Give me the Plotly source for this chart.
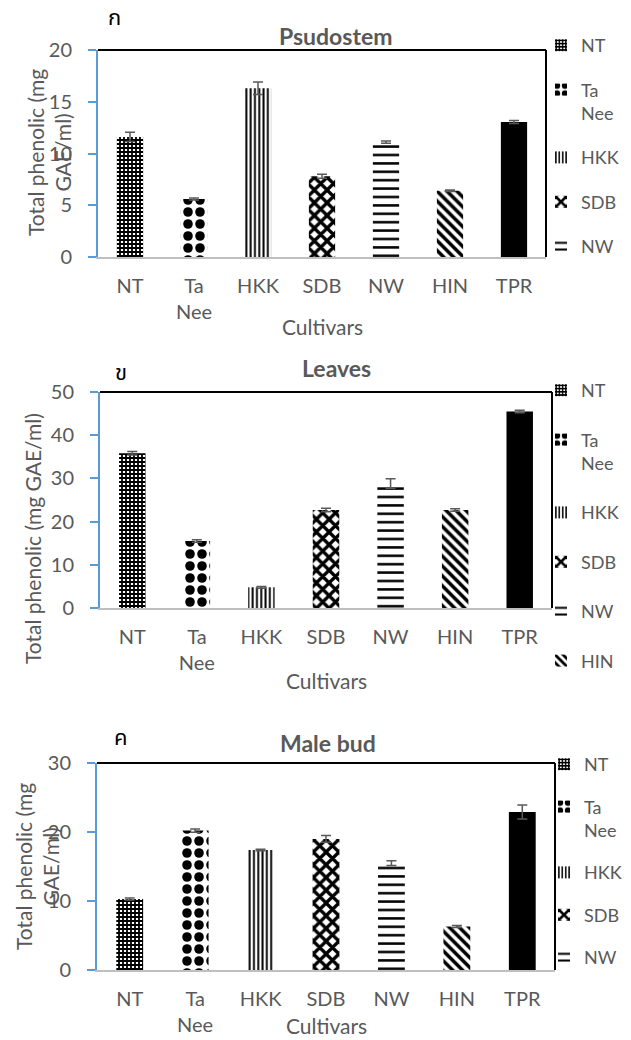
import plotly.graph_objects as go

W, H = 631, 1040

cultivars = ["NT", "Ta Nee", "HKK", "SDB", "NW", "HIN", "TPR"]
tick_labels = ["NT", "Ta<br>Nee", "HKK", "SDB", "NW", "HIN", "TPR"]
legend_labels = ["NT", "Ta<br>Nee", "HKK", "SDB", "NW", "HIN", "TPR"]

psudostem = [11.6, 5.6, 16.3, 7.8, 11.1, 6.4, 13.05]
psudostem_err = [0.45, 0.1, 0.6, 0.2, 0.1, 0.08, 0.15]
leaves = [35.8, 15.5, 4.8, 22.7, 28.8, 22.7, 45.5]
leaves_err = [0.4, 0.3, 0.2, 0.4, 1.1, 0.3, 0.3]
male_bud = [10.3, 20.2, 17.4, 19.0, 15.5, 6.3, 22.9]
male_bud_err = [0.15, 0.25, 0.1, 0.5, 0.35, 0.15, 1.0]

panel_titles = ["Psudostem", "Leaves", "Male bud"]
panel_letters = ["ก", "ข", "ค"]
y_ranges = [[0, 20], [0, 50], [0, 30]]
y_dticks = [5, 10, 10]

# per-cultivar fill patterns (shape, size, solidity); None -> solid black
patterns = [
    ("+", 4, 0.7),
    (".", 12, 0.5),
    ("|", 4.3, 0.45),
    ("x", 9, 0.6),
    ("-", 8.4, 0.3),
    ("\\", 7, 0.5),
    None,
]

FONT = "Lato, Carlito, 'Open Sans', sans-serif"
GRAY = "#595959"
BLUE = "#5B9BD5"

def px(xp):
    return xp / W

def py(yp):
    return 1 - yp / H

# plot-area boxes in pixels: (left, right, top, bottom)
boxes = [(98, 546, 50, 257), (100, 552, 392, 608), (97, 555, 763, 970)]
legend_pos = [(541, 27), (541, 372), (544, 746)]
legend_gaps = [18, 23, 16]
legend_counts = [5, 6, 5]
title_pos = [(335, 36), (336, 368), (328, 743)]
letter_pos = [(114, 18), (121, 373), (121, 738)]
ytitle = [("Total phenolic (mg<br>GAE/ml)", 49, 153),
          ("Total phenolic (mg GAE/ml)", 32, 539),
          ("Total phenolic (mg<br>GAE/ml)", 37, 867)]
xtitle_pos = [(322, 326), (326, 680), (326, 1025)]

series = [(psudostem, psudostem_err), (leaves, leaves_err), (male_bud, male_bud_err)]

fig = go.Figure()
annotations = []
shapes = []
layout = {}

for p in range(3):
    xa = "x" if p == 0 else f"x{p+1}"
    ya = "y" if p == 0 else f"y{p+1}"
    lg = "legend" if p == 0 else f"legend{p+1}"
    vals, errs = series[p]
    for i, c in enumerate(cultivars):
        pat = patterns[i]
        if pat is None:
            marker = dict(color="black", line=dict(width=0))
        else:
            marker = dict(color="white", line=dict(width=0),
                          pattern=dict(shape=pat[0], size=pat[1], solidity=pat[2],
                                       fgcolor="black", bgcolor="white", fillmode="replace"))
        fig.add_trace(go.Bar(
            x=[c], y=[vals[i]], width=0.41, name=legend_labels[i],
            marker=marker,
            error_y=dict(type="data", array=[errs[i]], visible=True,
                         color=GRAY, thickness=1.5, width=5),
            xaxis=xa, yaxis=ya, legend=lg, legendgroup=f"{p}-{i}",
            showlegend=i < legend_counts[p],
        ))
    l, r, t, b = boxes[p]
    xkey = "xaxis" if p == 0 else f"xaxis{p+1}"
    ykey = "yaxis" if p == 0 else f"yaxis{p+1}"
    layout[xkey] = dict(
        domain=[px(l), px(r)], anchor=ya, type="category", automargin=False,
        categoryorder="array", categoryarray=cultivars,
        tickmode="array", tickvals=cultivars, ticktext=tick_labels,
        range=[-0.5, 6.5], showgrid=False, showline=True,
        linecolor="#BFBFBF", linewidth=2, ticks="", ticklabelstandoff=10,
        tickfont=dict(family=FONT, size=20, color=GRAY), fixedrange=True,
    )
    layout[ykey] = dict(
        domain=[py(b), py(t)], anchor=xa, range=y_ranges[p], dtick=y_dticks[p],
        showgrid=False, showline=True, linecolor=BLUE, linewidth=2, automargin=False,
        ticks="outside", ticklen=8, tickwidth=2, tickcolor=BLUE,
        ticklabelstandoff=12, zeroline=False,
        tickfont=dict(family=FONT, size=20, color=GRAY), fixedrange=True,
    )
    lx, ly = legend_pos[p]
    layout[lg] = dict(
        x=px(lx), y=py(ly), xanchor="left", yanchor="top",
        bgcolor="rgba(0,0,0,0)", tracegroupgap=legend_gaps[p], valign="top",
        font=dict(family=FONT, size=18, color=GRAY), itemwidth=30,
    )
    # black top and right borders of plot area
    shapes.append(dict(type="line", xref=f"{xa} domain", yref=f"{ya} domain",
                       x0=0, x1=1, y0=1, y1=1, line=dict(color="black", width=2)))
    shapes.append(dict(type="line", xref=f"{xa} domain", yref=f"{ya} domain",
                       x0=1, x1=1, y0=0, y1=1, line=dict(color="black", width=2)))
    tx, ty = title_pos[p]
    annotations.append(dict(text=f"<b>{panel_titles[p]}</b>", x=px(tx), y=py(ty),
                            xref="paper", yref="paper", showarrow=False,
                            xanchor="center", yanchor="middle",
                            font=dict(family=FONT, size=23, color=GRAY)))
    lx2, ly2 = letter_pos[p]
    annotations.append(dict(text=panel_letters[p], x=px(lx2), y=py(ly2),
                            xref="paper", yref="paper", showarrow=False,
                            xanchor="center", yanchor="middle",
                            font=dict(family="Noto Sans Thai, Noto Sans, DejaVu Sans, sans-serif",
                                      size=22, color="black")))
    yt, yx, yy = ytitle[p]
    annotations.append(dict(text=yt, x=px(yx), y=py(yy), xref="paper", yref="paper",
                            showarrow=False, textangle=-90, xanchor="center",
                            yanchor="middle",
                            font=dict(family=FONT, size=21, color=GRAY)))
    cx, cy = xtitle_pos[p]
    annotations.append(dict(text="Cultivars", x=px(cx), y=py(cy), xref="paper",
                            yref="paper", showarrow=False, xanchor="center",
                            yanchor="middle",
                            font=dict(family=FONT, size=21, color=GRAY)))

fig.update_layout(
    template="none",
    width=W, height=H, margin=dict(l=0, r=0, t=0, b=0, autoexpand=False),
    paper_bgcolor="white", plot_bgcolor="white",
    barmode="overlay", annotations=annotations, shapes=shapes,
    font=dict(family=FONT, color=GRAY),
    **layout,
)

fig.write_html("out.html", config={"displayModeBar": False},
               post_script="document.body.style.margin='0';document.body.style.overflow='hidden';")
